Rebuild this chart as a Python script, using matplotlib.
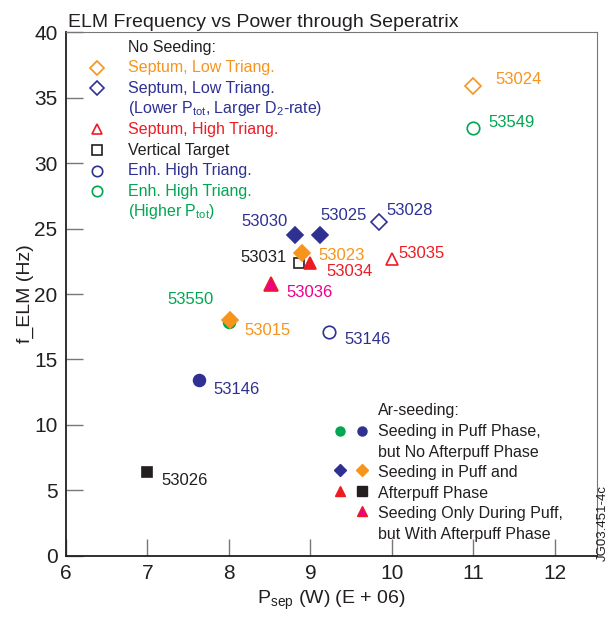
import matplotlib
matplotlib.use("Agg")
import matplotlib.pyplot as plt

plt.rcParams['font.family'] = ['Liberation Sans', 'DejaVu Sans']
plt.rcParams['mathtext.fontset'] = 'custom'
plt.rcParams['mathtext.rm'] = 'Liberation Sans'
plt.rcParams['mathtext.it'] = 'Liberation Sans:italic'

ORANGE = '#F7941D'
BLUE = '#2E3192'
RED = '#ED1C24'
GREEN = '#00A651'
MAGENTA = '#EC008C'
BLACK = '#231F20'

# data: shot numbers, P_sep (MW), f_ELM (Hz) per marker group
open_orange_dia_shots = ['53024']
open_orange_dia_x = [11.0]
open_orange_dia_y = [35.9]

open_blue_dia_shots = ['53028']
open_blue_dia_x = [9.84]
open_blue_dia_y = [25.5]

open_red_tri_shots = ['53035']
open_red_tri_x = [10.0]
open_red_tri_y = [22.7]

open_black_sq_shots = ['53031']
open_black_sq_x = [8.86]
open_black_sq_y = [22.4]

open_blue_circ_shots = ['53146']
open_blue_circ_x = [9.23]
open_blue_circ_y = [17.1]

open_green_circ_shots = ['53549']
open_green_circ_x = [11.0]
open_green_circ_y = [32.7]

green_circ_shots = ['53550']
green_circ_x = [8.0]
green_circ_y = [17.9]

blue_circ_shots = ['53146']
blue_circ_x = [7.63]
blue_circ_y = [13.4]

blue_dia_shots = ['53030', '53025']
blue_dia_x = [8.81, 9.12]
blue_dia_y = [24.5, 24.5]

orange_dia_shots = ['53023', '53015']
orange_dia_x = [8.9, 8.02]
orange_dia_y = [23.1, 18.0]

red_tri_shots = ['53034']
red_tri_x = [9.0]
red_tri_y = [22.4]

black_sq_shots = ['53026']
black_sq_x = [7.0]
black_sq_y = [6.4]

magenta_tri_shots = ['53036']
magenta_tri_x = [8.52]
magenta_tri_y = [20.8]

# label offsets in pixels (dx, dy, ha) per shot label
label_offsets = {
    '53024': (22, 6, 'left'), '53028': (8, 12, 'left'), '53035': (7, 5, 'left'),
    '53031': (-12, 5, 'right'), '53146o': (15, -8, 'left'), '53549': (15, 5, 'left'),
    '53550': (-15, 22, 'right'), '53146f': (15, -9, 'left'), '53030': (-7, 14, 'right'),
    '53025': (0, 20, 'left'), '53023': (16, -2, 'left'), '53015': (14, -10, 'left'),
    '53034': (16, -9, 'left'), '53026': (14, -8, 'left'), '53036': (15, -9, 'left'),
}

fig = plt.figure(figsize=(6.10, 6.19), dpi=100)
ax = fig.add_axes([0.108, 0.102, 0.871, 0.846])


def draw(xs, ys, shots, marker, color, filled, ms, key_suffix='', face=None, edge=None):
    fc = (face or color) if filled else 'none'
    ec = edge or color
    ax.plot(xs, ys, linestyle='none', marker=marker, markersize=ms,
            markerfacecolor=fc, markeredgecolor=ec, markeredgewidth=1.2)
    for x, y, s in zip(xs, ys, shots):
        dx, dy, ha = label_offsets[s + key_suffix]
        ax.annotate(s, (x, y), xytext=(dx, dy), textcoords='offset pixels',
                    ha=ha, va='center', fontsize=12, color=color)


draw(open_orange_dia_x, open_orange_dia_y, open_orange_dia_shots, 'D', ORANGE, False, 8)
draw(open_blue_dia_x, open_blue_dia_y, open_blue_dia_shots, 'D', BLUE, False, 8)
draw(open_red_tri_x, open_red_tri_y, open_red_tri_shots, '^', RED, False, 8.5)
draw(open_black_sq_x, open_black_sq_y, open_black_sq_shots, 's', BLACK, False, 7.5)
draw(open_blue_circ_x, open_blue_circ_y, open_blue_circ_shots, 'o', BLUE, False, 9, 'o')
draw(open_green_circ_x, open_green_circ_y, open_green_circ_shots, 'o', GREEN, False, 9)
draw(green_circ_x, green_circ_y, green_circ_shots, 'o', GREEN, True, 8.5)
draw(blue_circ_x, blue_circ_y, blue_circ_shots, 'o', BLUE, True, 8.5, 'f')
draw(blue_dia_x, blue_dia_y, blue_dia_shots, 'D', BLUE, True, 8)
draw(orange_dia_x, orange_dia_y, orange_dia_shots, 'D', ORANGE, True, 8)
draw(red_tri_x, red_tri_y, red_tri_shots, '^', RED, True, 8.5)
draw(black_sq_x, black_sq_y, black_sq_shots, 's', BLACK, True, 7.5)
draw(magenta_tri_x, magenta_tri_y, magenta_tri_shots, '^', MAGENTA, True, 9.5,
     face=MAGENTA, edge=RED)

ax.set_xlim(6, 12.52)
ax.set_ylim(0, 40)
ax.set_xticks(range(6, 13))
ax.set_yticks(range(0, 41, 5))
ax.tick_params(direction='in', length=12, width=1, color='#777777',
               labelsize=15, labelcolor=BLACK, pad=6)
for side in ['top', 'right']:
    ax.spines[side].set_color('#777777')
for side in ['left', 'bottom']:
    ax.spines[side].set_color(BLACK)
    ax.spines[side].set_linewidth(1.3)

ax.set_xlabel('P$_{\\mathrm{sep}}$ (W) (E + 06)', fontsize=14, color=BLACK, labelpad=4)
ax.set_ylabel('f_ELM (Hz)', fontsize=14, color=BLACK, labelpad=0)
fig.text(0.112, 0.963, 'ELM Frequency vs Power through Seperatrix',
         fontsize=14, color=BLACK, ha='left', va='center')
fig.text(0.989, 0.155, 'JG03.451-4c', rotation=90, fontsize=9.5,
         color=BLACK, ha='center', va='center')

# upper-left key
tr = ax.transAxes
ul_rows = [
    ('No Seeding:', BLACK, None),
    ('Septum, Low Triang.', ORANGE, ('D', ORANGE)),
    ('Septum, Low Triang.', BLUE, ('D', BLUE)),
    ('(Lower P$_{\\mathrm{tot}}$, Larger D$_{\\mathrm{2}}$-rate)', BLUE, None),
    ('Septum, High Triang.', RED, ('^', RED)),
    ('Vertical Target', BLACK, ('s', BLACK)),
    ('Enh. High Triang.', BLUE, ('o', BLUE)),
    ('Enh. High Triang.', GREEN, ('o', GREEN)),
    ('(Higher P$_{\\mathrm{tot}}$)', GREEN, None),
]
y0 = 0.971
step = 0.0392
for i, (txt, col, mk) in enumerate(ul_rows):
    yy = y0 - i * step
    ax.text(0.117, yy, txt, transform=tr, fontsize=11.5, color=col,
            ha='left', va='center')
    if mk:
        ax.plot([0.0584], [yy], transform=tr, marker=mk[0], markersize=7.5,
                markerfacecolor='none', markeredgecolor=mk[1],
                markeredgewidth=1.2, linestyle='none')

# lower-right key
lr_lines = ['Ar-seeding:', 'Seeding in Puff Phase,', 'but No Afterpuff Phase',
            'Seeding in Puff and', 'Afterpuff Phase',
            'Seeding Only During Puff,', 'but With Afterpuff Phase']
ly0 = (556 - 411) / 524
lstep = 0.0392
for i, txt in enumerate(lr_lines):
    ax.text(0.5876, ly0 - i * lstep, txt, transform=tr, fontsize=11.5,
            color=BLACK, ha='left', va='center')

c1, c2 = 0.516, 0.557
lr_marks = [
    (c1, 1.0, 'o', GREEN, GREEN), (c2, 1.0, 'o', BLUE, BLUE),
    (c1, 2.9, 'D', BLUE, BLUE), (c2, 2.9, 'D', ORANGE, ORANGE),
    (c1, 3.9, '^', RED, RED), (c2, 3.9, 's', BLACK, BLACK),
    (c2, 4.85, '^', MAGENTA, RED),
]
for cx, row, mk, fc, ec in lr_marks:
    ax.plot([cx], [ly0 - row * lstep], transform=tr, marker=mk, markersize=6.5,
            markerfacecolor=fc, markeredgecolor=ec, linestyle='none')

fig.savefig('out.png', dpi=100)
